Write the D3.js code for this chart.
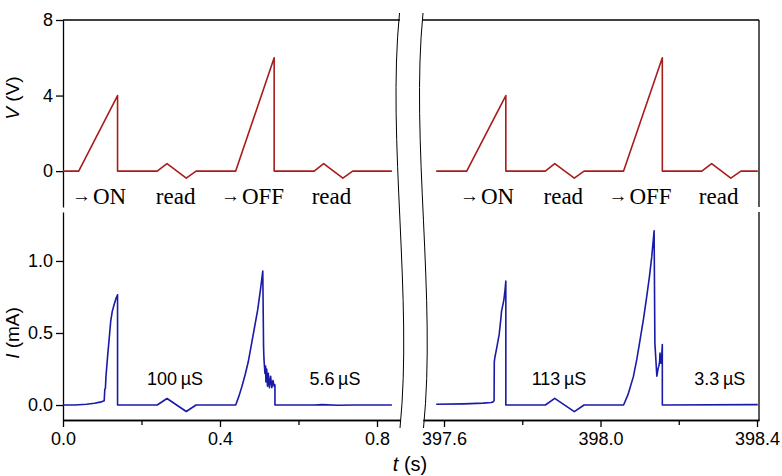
<!DOCTYPE html>
<html>
<head>
<meta charset="utf-8">
<script src="https://cdn.jsdelivr.net/npm/d3@7"></script>
<style>
  body { margin: 0; background: #fff; }
  svg text { fill: #000; }
</style>
</head>
<body>
<div id="chart"></div>
<script>
// voltage pulses, first cycle (left) and late cycle (right)
const vTimeLeft = [0, 0.04, 0.139, 0.139, 0.24, 0.265, 0.314, 0.339, 0.44, 0.538, 0.538, 0.64, 0.664, 0.713, 0.738, 0.838];
const vLeft = [0, 0, 4, 0, 0, 0.4, -0.37, 0, 0, 6, 0, 0, 0.4, -0.37, 0, 0];
const vTimeRight = [397.58, 397.658, 397.758, 397.758, 397.859, 397.883, 397.933, 397.958, 398.059, 398.158, 398.158, 398.259, 398.284, 398.333, 398.359, 398.402];
const vRight = [0, 0, 4, 0, 0, 0.4, -0.37, 0, 0, 6, 0, 0, 0.4, -0.37, 0, 0];

// measured current
const iTimeLeft = [0, 0.03, 0.06, 0.08, 0.095, 0.105, 0.1065, 0.108, 0.1095, 0.114, 0.117, 0.1215, 0.1255, 0.1305, 0.135, 0.139, 0.139,
  0.24, 0.265, 0.314, 0.339, 0.44, 0.448, 0.456, 0.464, 0.472, 0.48, 0.488, 0.496, 0.503, 0.509, 0.5095, 0.511, 0.512, 0.513,
  0.5145, 0.516, 0.517, 0.519, 0.521, 0.523, 0.526, 0.529, 0.532, 0.535, 0.538, 0.54, 0.54, 0.64, 0.66, 0.7, 0.74, 0.838];
const iLeft = [0, 0, 0.005, 0.012, 0.02, 0.03, 0.11, 0.115, 0.2, 0.35, 0.44, 0.58, 0.65, 0.7, 0.74, 0.765, 0,
  0, 0.045, -0.045, 0, 0, 0.06, 0.13, 0.21, 0.3, 0.42, 0.54, 0.66, 0.8, 0.93, 0.8, 0.4, 0.32, 0.28,
  0.22, 0.27, 0.16, 0.25, 0.13, 0.22, 0.12, 0.2, 0.12, 0.17, 0.13, 0.14, 0, 0, 0.003, -0.002, 0, 0];
const iTimeRight = [397.58, 397.65, 397.7, 397.72, 397.7245, 397.728, 397.7285, 397.73, 397.735, 397.741, 397.745, 397.747, 397.753, 397.756, 397.758, 397.758,
  397.859, 397.883, 397.933, 397.958, 398.059, 398.07, 398.084, 398.093, 398.101, 398.11, 398.118, 398.125, 398.131, 398.137,
  398.139, 398.144, 398.147, 398.149, 398.151, 398.152, 398.154, 398.156, 398.158, 398.158, 398.402];
const iRight = [0.005, 0.008, 0.013, 0.018, 0.02, 0.03, 0.3, 0.33, 0.4, 0.49, 0.59, 0.65, 0.73, 0.8, 0.86, 0,
  0, 0.046, -0.046, 0, 0, 0.07, 0.197, 0.32, 0.45, 0.6, 0.75, 0.89, 1.03, 1.21,
  0.43, 0.2, 0.25, 0.27, 0.3, 0.36, 0.29, 0.32, 0.42, 0, 0.003];

const vTicks = [0, 4, 8];
const iTicks = [0, 0.5, 1.0];
const tTicksLeft = [0, 0.4, 0.8];
const tMinorLeft = [0.2, 0.6];
const tTicksRight = [397.6, 398.0, 398.4];
const tMinorRight = [397.8, 398.2];

const pulseLabels = ['ON', 'read', 'OFF', 'read'];
const pulseArrows = [true, false, true, false];
const pulseTimesLeft = [0.0917, 0.287, 0.483, 0.684];
const pulseTimesRight = [397.71, 397.905, 398.101, 398.302];
const conductLabels = ['100\u2009\u00b5S', '5.6\u2009\u00b5S'];
const conductLabelsRight = ['113\u2009\u00b5S', '3.3\u2009\u00b5S'];
const conductTimesLeft = [0.2854, 0.693];
const conductTimesRight = [397.894, 398.305];

const W = 782, H = 476;
const sans = '"Liberation Sans", Arial, sans-serif';
const serif = '"Liberation Serif", "Times New Roman", serif';
const red = '#a81c1c', blue = '#1a1aa8';

const svg = d3.select('#chart').append('svg')
  .attr('width', W).attr('height', H)
  .style('font-family', sans);

const xL = d3.scaleLinear().domain([0, 0.8586]).range([63, 400]);
const xR = d3.scaleLinear().domain([397.5463, 398.4051]).range([423, 759]);
const yV = d3.scaleLinear().domain([-1.9, 8]).range([207, 20]);
const yI = d3.scaleLinear().domain([-0.104, 1.34]).range([420, 212]);

function styleAxis(g) {
  g.selectAll('path, line').attr('stroke', '#000').attr('stroke-width', 1.3);
  g.selectAll('text').style('font-family', sans).style('font-size', '18px').attr('fill', '#000');
}

// y axes
svg.append('g').attr('transform', 'translate(63,0)')
  .call(d3.axisLeft(yV).tickValues(vTicks).tickSize(7).tickSizeOuter(0).tickPadding(3))
  .call(styleAxis);
svg.append('g').attr('transform', 'translate(63,0)')
  .call(d3.axisLeft(yI).tickValues(iTicks).tickFormat(d3.format('.1f')).tickSize(7).tickSizeOuter(0).tickPadding(3))
  .call(styleAxis);

// x axes
svg.append('g').attr('transform', 'translate(0,420)')
  .call(d3.axisBottom(xL).tickValues(tTicksLeft).tickFormat(d3.format('.1f')).tickSize(7).tickSizeOuter(0).tickPadding(5))
  .call(styleAxis);
svg.append('g').attr('transform', 'translate(0,420)')
  .call(d3.axisBottom(xL).tickValues(tMinorLeft).tickFormat('').tickSize(5).tickSizeOuter(0))
  .call(styleAxis);
svg.append('g').attr('transform', 'translate(0,420)')
  .call(d3.axisBottom(xR).tickValues(tTicksRight).tickFormat(d3.format('.1f')).tickSize(7).tickSizeOuter(0).tickPadding(5))
  .call(styleAxis);
svg.append('g').attr('transform', 'translate(0,420)')
  .call(d3.axisBottom(xR).tickValues(tMinorRight).tickFormat('').tickSize(5).tickSizeOuter(0))
  .call(styleAxis);

// frame lines
const frame = svg.append('g').attr('stroke', '#000').attr('stroke-width', 1.3);
frame.append('line').attr('x1', xL.range()[0]).attr('x2', xL.range()[1]).attr('y1', yV(8)).attr('y2', yV(8));
frame.append('line').attr('x1', xR.range()[0]).attr('x2', xR.range()[1]).attr('y1', yV(8)).attr('y2', yV(8));
frame.append('line').attr('x1', xR.range()[1]).attr('x2', xR.range()[1]).attr('y1', yV.range()[1]).attr('y2', yV.range()[0]);
frame.append('line').attr('x1', xR.range()[1]).attr('x2', xR.range()[1]).attr('y1', yI.range()[1]).attr('y2', yI.range()[0]);

// axis break
[0, 23.5].forEach(dx => {
  svg.append('path')
    .attr('d', `M${399.5 + dx},13 C${387 + dx},140 ${413 + dx},300 ${400 + dx},428`)
    .attr('fill', 'none').attr('stroke', '#000').attr('stroke-width', 1);
});

// data lines
function drawLine(ts, vs, x, y, color) {
  const pts = ts.map((t, k) => [t, vs[k]]);
  svg.append('path').datum(pts)
    .attr('fill', 'none').attr('stroke', color).attr('stroke-width', 1.6)
    .attr('stroke-linejoin', 'round')
    .attr('d', d3.line().x(d => x(d[0])).y(d => y(d[1])));
}
drawLine(vTimeLeft, vLeft, xL, yV, red);
drawLine(vTimeRight, vRight, xR, yV, red);
drawLine(iTimeLeft, iLeft, xL, yI, blue);
drawLine(iTimeRight, iRight, xR, yI, blue);

// pulse labels
function pulseText(x, t) {
  pulseLabels.forEach((lab, k) => {
    const txt = svg.append('text')
      .attr('x', x(t[k])).attr('y', 204)
      .attr('text-anchor', 'middle')
      .style('font-family', serif).style('font-size', '23px');
    if (pulseArrows[k]) {
      txt.append('tspan').style('font-size', '19px').attr('dy', -2).text('\u2192');
      txt.append('tspan').attr('dy', 2).attr('dx', 2).text(lab);
    } else {
      txt.append('tspan').text(lab);
    }
  });
}
pulseText(xL, pulseTimesLeft);
pulseText(xR, pulseTimesRight);

// conductance labels
conductLabels.forEach((lab, k) => {
  svg.append('text').attr('x', xL(conductTimesLeft[k])).attr('y', 385)
    .attr('text-anchor', 'middle').style('font-size', '18px').text(lab);
});
conductLabelsRight.forEach((lab, k) => {
  svg.append('text').attr('x', xR(conductTimesRight[k])).attr('y', 385)
    .attr('text-anchor', 'middle').style('font-size', '18px').text(lab);
});

// axis titles
const vTitle = svg.append('text').attr('transform', 'translate(19,98) rotate(-90)')
  .attr('text-anchor', 'middle').style('font-size', '19px');
vTitle.append('tspan').style('font-style', 'italic').text('V');
vTitle.append('tspan').text(' (V)');

const iTitle = svg.append('text').attr('transform', 'translate(19,333) rotate(-90)')
  .attr('text-anchor', 'middle').style('font-size', '19px');
iTitle.append('tspan').style('font-style', 'italic').text('I');
iTitle.append('tspan').text(' (mA)');

const tTitle = svg.append('text').attr('x', 410).attr('y', 471)
  .attr('text-anchor', 'middle').style('font-size', '20px');
tTitle.append('tspan').style('font-style', 'italic').text('t');
tTitle.append('tspan').text(' (s)');
</script>
</body>
</html>
